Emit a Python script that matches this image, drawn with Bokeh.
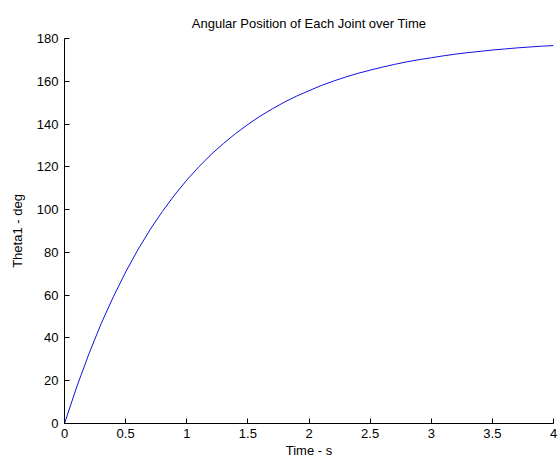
from bokeh.plotting import figure
from bokeh.models import Range1d, FixedTicker
from bokeh.embed import file_html
from bokeh.resources import INLINE

# Data
time_s = [0.0, 0.1, 0.2, 0.3, 0.4, 0.5, 0.6, 0.7, 0.8, 0.9,
          1.0, 1.1, 1.2, 1.3, 1.4, 1.5, 1.6, 1.7, 1.8, 1.9,
          2.0, 2.1, 2.2, 2.3, 2.4, 2.5, 2.6, 2.7, 2.8, 2.9,
          3.0, 3.1, 3.2, 3.3, 3.4, 3.5, 3.6, 3.7, 3.8, 3.9, 4.0]
theta1_deg = [0.0, 17.1, 32.6, 46.7, 59.3, 70.8, 81.2, 90.6, 99.1, 106.8,
              113.8, 120.1, 125.8, 130.9, 135.6, 139.8, 143.7, 147.1, 150.3, 153.1,
              155.6, 158.0, 160.1, 162.0, 163.7, 165.2, 166.6, 167.9, 169.1, 170.1,
              171.0, 171.9, 172.7, 173.4, 174.0, 174.6, 175.1, 175.6, 176.0, 176.4, 176.7]

x_ticks = [0, 0.5, 1, 1.5, 2, 2.5, 3, 3.5, 4]
x_tick_labels = ["0", "0.5", "1", "1.5", "2", "2.5", "3", "3.5", "4"]
y_ticks = [0, 20, 40, 60, 80, 100, 120, 140, 160, 180]
y_tick_labels = ["0", "20", "40", "60", "80", "100", "120", "140", "160", "180"]

FONT = "Liberation Sans"

p = figure(width=558, height=460, output_backend="svg", toolbar_location=None,
           x_range=Range1d(0, 4), y_range=Range1d(0, 180),
           title="Angular Position of Each Joint over Time",
           min_border_left=64, min_border_right=5, min_border_top=38, min_border_bottom=37)

p.line(time_s, theta1_deg, line_color="#1010e0", line_width=1)

p.title.text_font = FONT
p.title.text_font_size = "13px"
p.title.text_font_style = "normal"
p.title.align = "center"
p.title.text_color = "#000000"
p.title.standoff = 16

p.outline_line_color = None
p.xgrid.grid_line_color = None
p.ygrid.grid_line_color = None
p.background_fill_color = "white"
p.border_fill_color = "white"

for ax in (p.xaxis[0], p.yaxis[0]):
    ax.axis_line_color = "#000000"
    ax.major_tick_in = 5
    ax.major_tick_out = 0
    ax.minor_tick_line_color = None
    ax.major_tick_line_color = "#000000"
    ax.major_label_text_font = FONT
    ax.major_label_text_font_size = "13px"
    ax.major_label_text_color = "#000000"
    ax.axis_label_text_font = FONT
    ax.axis_label_text_font_size = "13px"
    ax.axis_label_text_font_style = "normal"
    ax.axis_label_text_color = "#000000"

p.xaxis[0].ticker = FixedTicker(ticks=x_ticks)
p.xaxis[0].major_label_overrides = dict(zip(x_ticks, x_tick_labels))
p.yaxis[0].ticker = FixedTicker(ticks=y_ticks)
p.yaxis[0].major_label_overrides = dict(zip(y_ticks, y_tick_labels))

p.xaxis[0].axis_label = "Time - s"
p.yaxis[0].axis_label = "Theta1 - deg"
p.xaxis[0].major_label_standoff = 5
p.xaxis[0].axis_label_standoff = 2
p.yaxis[0].major_label_standoff = 6
p.yaxis[0].axis_label_standoff = 9

open("out.html", "w").write(file_html(p, INLINE))
